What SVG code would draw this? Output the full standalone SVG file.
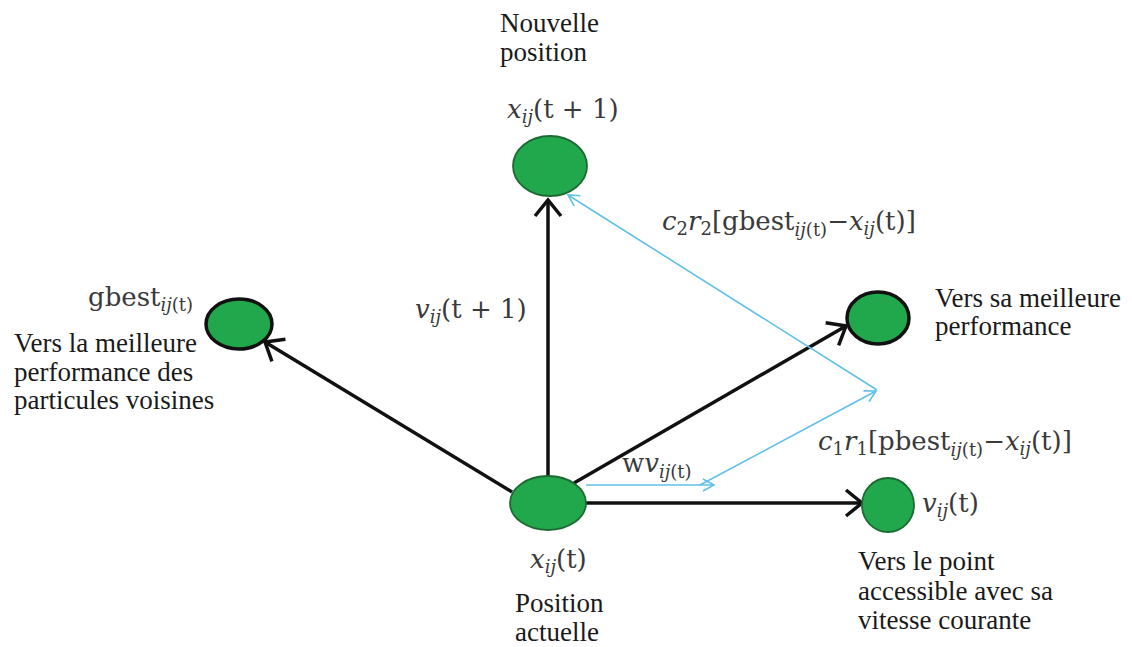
<svg xmlns="http://www.w3.org/2000/svg" width="1132" height="647" viewBox="0 0 1132 647">
<style>
.txt{font-family:'Liberation Serif','Times New Roman',Times,'DejaVu Serif','Noto Serif',serif;font-size:27px;fill:#1a1a1a}
.math{font-family:'DejaVu Serif','Liberation Serif','Times New Roman','Noto Serif',serif;font-size:26px;fill:#3a3a3a}
.it{font-style:italic}
.sub{font-size:18px;font-style:italic}
.sn{font-size:18px}
.node{fill:#22a84c}
.bk{stroke:#111;stroke-width:3.5}
.gn{stroke:#1d6a33;stroke-width:1.8}
.arr{stroke:#111;stroke-width:3.5;fill:none}
.blue{stroke:#5fc0ea;stroke-width:1.6;fill:none}
</style>
<defs>
<marker id="ah" markerUnits="userSpaceOnUse" markerWidth="40" markerHeight="40" refX="0" refY="0" viewBox="-20 -20 40 40" orient="auto" overflow="visible">
<path d="M-16,-13 L0,0 L-16,13" fill="none" stroke="#111" stroke-width="3.5"/>
</marker>
<marker id="bh" markerUnits="userSpaceOnUse" markerWidth="30" markerHeight="30" refX="0" refY="0" viewBox="-15 -15 30 30" orient="auto" overflow="visible">
<path d="M-11,-6 L0,0 L-11,6" fill="none" stroke="#5fc0ea" stroke-width="1.6"/>
</marker>
</defs>
<rect width="1132" height="647" fill="#fff"/>

<g id="connectors">
<path class="arr" d="M548,476 L548,200" marker-end="url(#ah)"/>
<path class="arr" d="M512,492 L265,342" marker-end="url(#ah)"/>
<path class="arr" d="M574,483 L846,326" marker-end="url(#ah)"/>
<path class="arr" d="M586,503 L862,503" marker-end="url(#ah)"/>
<path class="blue" d="M586,485 L714,485" marker-end="url(#bh)"/>
<path class="blue" d="M700,485 L876,391" marker-end="url(#bh)"/>
<path class="blue" d="M877,390 L568,195" marker-end="url(#bh)"/>
</g>

<g id="node-new">
<ellipse class="node gn" cx="550" cy="166" rx="37" ry="30"/>
<text class="txt" x="500" y="32">Nouvelle</text>
<text class="txt" x="500" y="61">position</text>
<text class="math" x="507" y="118"><tspan class="it">x</tspan><tspan class="sub" dy="5">ij</tspan><tspan dy="-5">(t + 1)</tspan></text>
</g>

<g id="node-gbest">
<ellipse class="node bk" cx="239" cy="324" rx="33" ry="25"/>
<text class="math" x="88" y="306">gbest<tspan class="sub" dy="5">ij</tspan><tspan class="sn">(t)</tspan></text>
<text class="txt" x="14" y="352">Vers la meilleure</text>
<text class="txt" x="14" y="381">performance des</text>
<text class="txt" x="14" y="409">particules voisines</text>
</g>

<g id="node-pbest">
<ellipse class="node bk" cx="878" cy="318" rx="31" ry="26"/>
<text class="txt" x="935" y="307">Vers sa meilleure</text>
<text class="txt" x="935" y="335">performance</text>
</g>

<g id="node-v">
<ellipse class="node gn" cx="888" cy="505" rx="26" ry="27"/>
<text class="math" x="922" y="512"><tspan class="it">v</tspan><tspan class="sub" dy="5">ij</tspan><tspan dy="-5">(t)</tspan></text>
<text class="txt" x="858" y="570">Vers le point</text>
<text class="txt" x="858" y="600">accessible avec sa</text>
<text class="txt" x="858" y="629">vitesse courante</text>
</g>

<g id="node-current">
<ellipse class="node gn" cx="548" cy="503" rx="38" ry="27"/>
<text class="math" x="530" y="568"><tspan class="it">x</tspan><tspan class="sub" dy="5">ij</tspan><tspan dy="-5">(t)</tspan></text>
<text class="txt" x="515" y="612">Position</text>
<text class="txt" x="515" y="641">actuelle</text>
</g>

<g id="labels">
<text class="math" x="415" y="318"><tspan class="it">v</tspan><tspan class="sub" dy="5">ij</tspan><tspan dy="-5">(t + 1)</tspan></text>
<text class="math" x="662" y="230"><tspan class="it">c</tspan><tspan class="sn" dy="5">2</tspan><tspan class="it" dy="-5">r</tspan><tspan class="sn" dy="5">2</tspan><tspan dy="-5">[gbest</tspan><tspan class="sub" dy="6">ij</tspan><tspan class="sn">(t)</tspan><tspan dy="-6">−</tspan><tspan class="it">x</tspan><tspan class="sub" dy="5">ij</tspan><tspan dy="-5">(t)]</tspan></text>
<text class="math" x="818" y="450"><tspan class="it">c</tspan><tspan class="sn" dy="5">1</tspan><tspan class="it" dy="-5">r</tspan><tspan class="sn" dy="5">1</tspan><tspan dy="-5">[pbest</tspan><tspan class="sub" dy="6">ij</tspan><tspan class="sn">(t)</tspan><tspan dy="-6">−</tspan><tspan class="it">x</tspan><tspan class="sub" dy="5">ij</tspan><tspan dy="-5">(t)]</tspan></text>
<text class="math" x="622" y="472">w<tspan class="it">v</tspan><tspan class="sub" dy="6">ij</tspan><tspan class="sn">(t)</tspan></text>
</g>
</svg>
